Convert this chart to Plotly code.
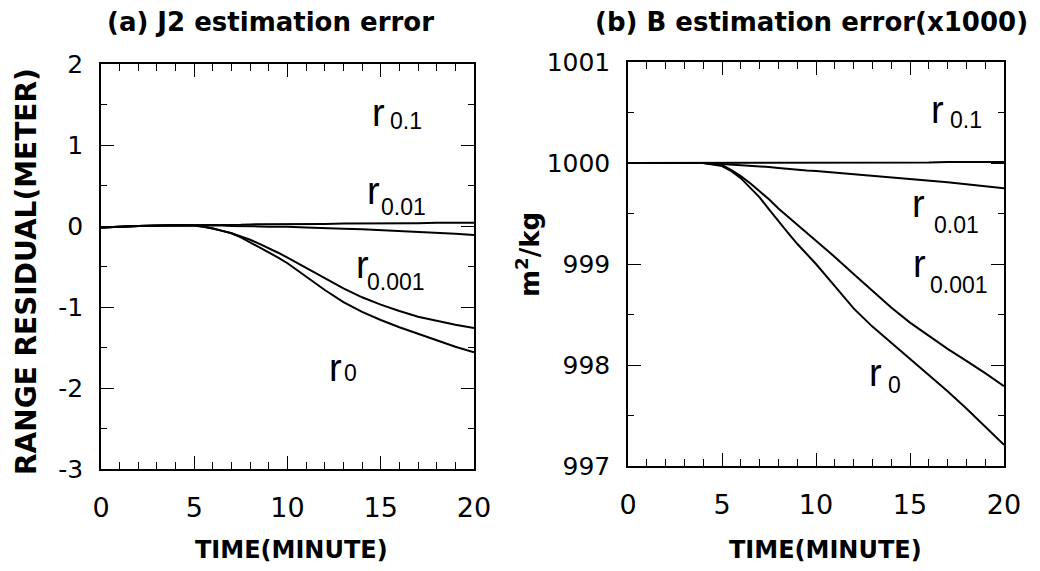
import plotly.graph_objects as go
from plotly.subplots import make_subplots

# ---------------- data ----------------
time_min = [0, 2, 4, 5, 5.5, 6, 6.5, 7, 7.5, 8, 8.5, 9, 9.5, 10,
            11, 12, 13, 14, 15, 16, 17, 18, 19, 20]

# (a) J2 estimation error : range residual (meter)
j2_r01 = [-0.02, 0.0, 0.01, 0.01, 0.01, 0.01, 0.01, 0.015, 0.015, 0.02, 0.02, 0.02, 0.02, 0.02,
          0.025, 0.025, 0.03, 0.03, 0.03, 0.035, 0.035, 0.04, 0.04, 0.04]
j2_r001 = [-0.02, 0.0, 0.01, 0.01, 0.01, 0.01, 0.005, 0.0, 0.0, -0.005, -0.005, -0.01, -0.01, -0.01,
           -0.02, -0.03, -0.035, -0.04, -0.05, -0.06, -0.07, -0.08, -0.095, -0.11]
j2_r0001 = [-0.02, 0.0, 0.01, 0.005, -0.01, -0.03, -0.06, -0.09, -0.13, -0.17, -0.22, -0.27, -0.33, -0.39,
            -0.52, -0.65, -0.77, -0.88, -0.97, -1.05, -1.12, -1.17, -1.22, -1.26]
j2_r0 = [-0.02, 0.0, 0.01, 0.005, -0.01, -0.03, -0.06, -0.09, -0.14, -0.20, -0.26, -0.32, -0.39, -0.46,
         -0.63, -0.79, -0.94, -1.06, -1.16, -1.25, -1.33, -1.41, -1.49, -1.56]

# (b) B estimation error (x1000), m^2/kg
b_r01 = [1000, 1000, 1000, 1000, 1000, 1000, 1000, 1000, 1000, 1000, 1000, 1000, 1000, 1000,
         1000, 1000, 1000, 1000.005, 1000.005, 1000.005, 1000.01, 1000.01, 1000.01, 1000.01]
b_r001 = [1000, 1000, 1000, 999.99, 999.985, 999.98, 999.975, 999.97, 999.96, 999.95, 999.94, 999.93, 999.925, 999.92,
          999.905, 999.89, 999.875, 999.86, 999.845, 999.83, 999.81, 999.79, 999.77, 999.75]
b_r0001 = [1000, 1000, 1000, 999.98, 999.93, 999.87, 999.80, 999.72, 999.64, 999.55, 999.47, 999.39, 999.31, 999.23,
           999.07, 998.90, 998.73, 998.57, 998.42, 998.29, 998.16, 998.04, 997.92, 997.79]
b_r0 = [1000, 1000, 1000, 999.97, 999.92, 999.85, 999.76, 999.66, 999.54, 999.42, 999.31, 999.20, 999.10, 999.00,
        998.78, 998.56, 998.38, 998.22, 998.06, 997.90, 997.74, 997.57, 997.39, 997.21]

x_ticks = [0, 5, 10, 15, 20]
x_ticktext = ["0", "5", "10", "15", "20"]
ya_ticks = [-3, -2, -1, 0, 1, 2]
ya_ticktext = ["-3", "-2", "-1", "0", "1", "2"]
yb_ticks = [997, 998, 999, 1000, 1001]
yb_ticktext = ["997", "998", "999", "1000", "1001"]

# curve labels: base letter and subscript, with (time, value) anchor positions
label_main = ["r", "r", "r", "r"]
label_sub = ["0.1", "0.01", "0.001", "0"]
a_main_pos = [(14.9, 1.40), (14.6, 0.43), (14.0, -0.48), (12.6, -1.75)]
a_sub_pos = [(16.35, 1.30), (16.2, 0.23), (15.8, -0.69), (13.4, -1.81)]
b_main_pos = [(16.44, 1000.52), (15.43, 999.59), (15.48, 999.0), (13.19, 997.92)]
b_sub_pos = [(17.98, 1000.43), (17.45, 999.39), (17.6, 998.79), (14.15, 997.80)]

# ---------------- figure ----------------
fig = make_subplots(rows=1, cols=2)

line_style = dict(color="black", width=2)
for ys in (j2_r01, j2_r001, j2_r0001, j2_r0):
    fig.add_trace(go.Scatter(x=time_min, y=ys, mode="lines", line=line_style,
                             showlegend=False), row=1, col=1)
for ys in (b_r01, b_r001, b_r0001, b_r0):
    fig.add_trace(go.Scatter(x=time_min, y=ys, mode="lines", line=line_style,
                             showlegend=False), row=1, col=2)

# the page body has an 8px margin, so the figure is sized to fit the window
OFF = 8
W, H = 1040 - OFF, 571 - OFF
SANS = "Liberation Sans, Arial, sans-serif"
WIDE = "DejaVu Sans, Verdana, sans-serif"


def px_x(X):
    return (X - OFF) / W


def px_y(Y):
    return (H - (Y - OFF)) / H


axis_common = dict(
    showline=True, linecolor="black", linewidth=1.5, mirror="ticks",
    ticks="inside", ticklen=13, tickwidth=1.3, tickcolor="black",
    showgrid=False, zeroline=False, automargin=False,
)

fig.update_xaxes(**axis_common, range=[0, 20], tickvals=x_ticks, ticktext=x_ticktext,
                 tickfont=dict(family=WIDE, size=27, color="black"),
                 ticklabelstandoff=14,
                 minor=dict(dtick=1, ticks="inside", ticklen=7, tickwidth=1.1, tickcolor="black",
                            showgrid=False))
fig.update_yaxes(**axis_common,
                 tickfont=dict(family=WIDE, size=25, color="black"),
                 ticklabelstandoff=11,
                 minor=dict(dtick=0.5, ticks="inside", ticklen=6, tickwidth=1.1, tickcolor="black",
                            showgrid=False))

fig.update_xaxes(domain=[px_x(101), px_x(474)], row=1, col=1)
fig.update_xaxes(domain=[px_x(628), px_x(1004)], row=1, col=2)
fig.update_yaxes(domain=[px_y(469), px_y(64)], range=[-3, 2],
                 tickvals=ya_ticks, ticktext=ya_ticktext, row=1, col=1)
fig.update_yaxes(domain=[px_y(466), px_y(62)], range=[997, 1001],
                 tickvals=yb_ticks, ticktext=yb_ticktext, row=1, col=2)

annotations = []


def paper(x, y, text, size, family, bold=False, angle=0):
    return dict(x=px_x(x), y=px_y(y), xref="paper", yref="paper", text=text,
                showarrow=False, textangle=angle, xanchor="center", yanchor="middle",
                font=dict(family=family, size=size, color="black", weight="bold" if bold else "normal"))


annotations.append(paper(270, 22, "(a) J2 estimation error", 26, WIDE, bold=True))
annotations.append(paper(811, 22, "(b) B estimation error(x1000)", 26, WIDE, bold=True))
annotations.append(paper(291, 550, "TIME(MINUTE)", 24, WIDE, bold=True))
annotations.append(paper(825, 550, "TIME(MINUTE)", 24, WIDE, bold=True))
annotations.append(paper(26, 272, "RANGE RESIDUAL(METER)", 28, WIDE, bold=True, angle=-90))
annotations.append(paper(528, 255, "m<sup>2</sup>/kg", 26, WIDE, bold=True, angle=-90))

for xr, yr, mains, subs in (("x", "y", a_main_pos, a_sub_pos), ("x2", "y2", b_main_pos, b_sub_pos)):
    for (mx, my), (sx, sy), m, s in zip(mains, subs, label_main, label_sub):
        annotations.append(dict(x=mx, y=my, xref=xr, yref=yr, text=m, showarrow=False,
                                xanchor="center", yanchor="middle",
                                font=dict(family=SANS, size=38, color="black")))
        annotations.append(dict(x=sx, y=sy, xref=xr, yref=yr, text=s, showarrow=False,
                                xanchor="center", yanchor="middle",
                                font=dict(family=SANS, size=23, color="black")))

fig.update_layout(
    template="none",
    width=W, height=H,
    margin=dict(l=0, r=0, t=0, b=0),
    paper_bgcolor="white", plot_bgcolor="white",
    annotations=annotations,
    showlegend=False,
)

fig.write_html("out.html")
